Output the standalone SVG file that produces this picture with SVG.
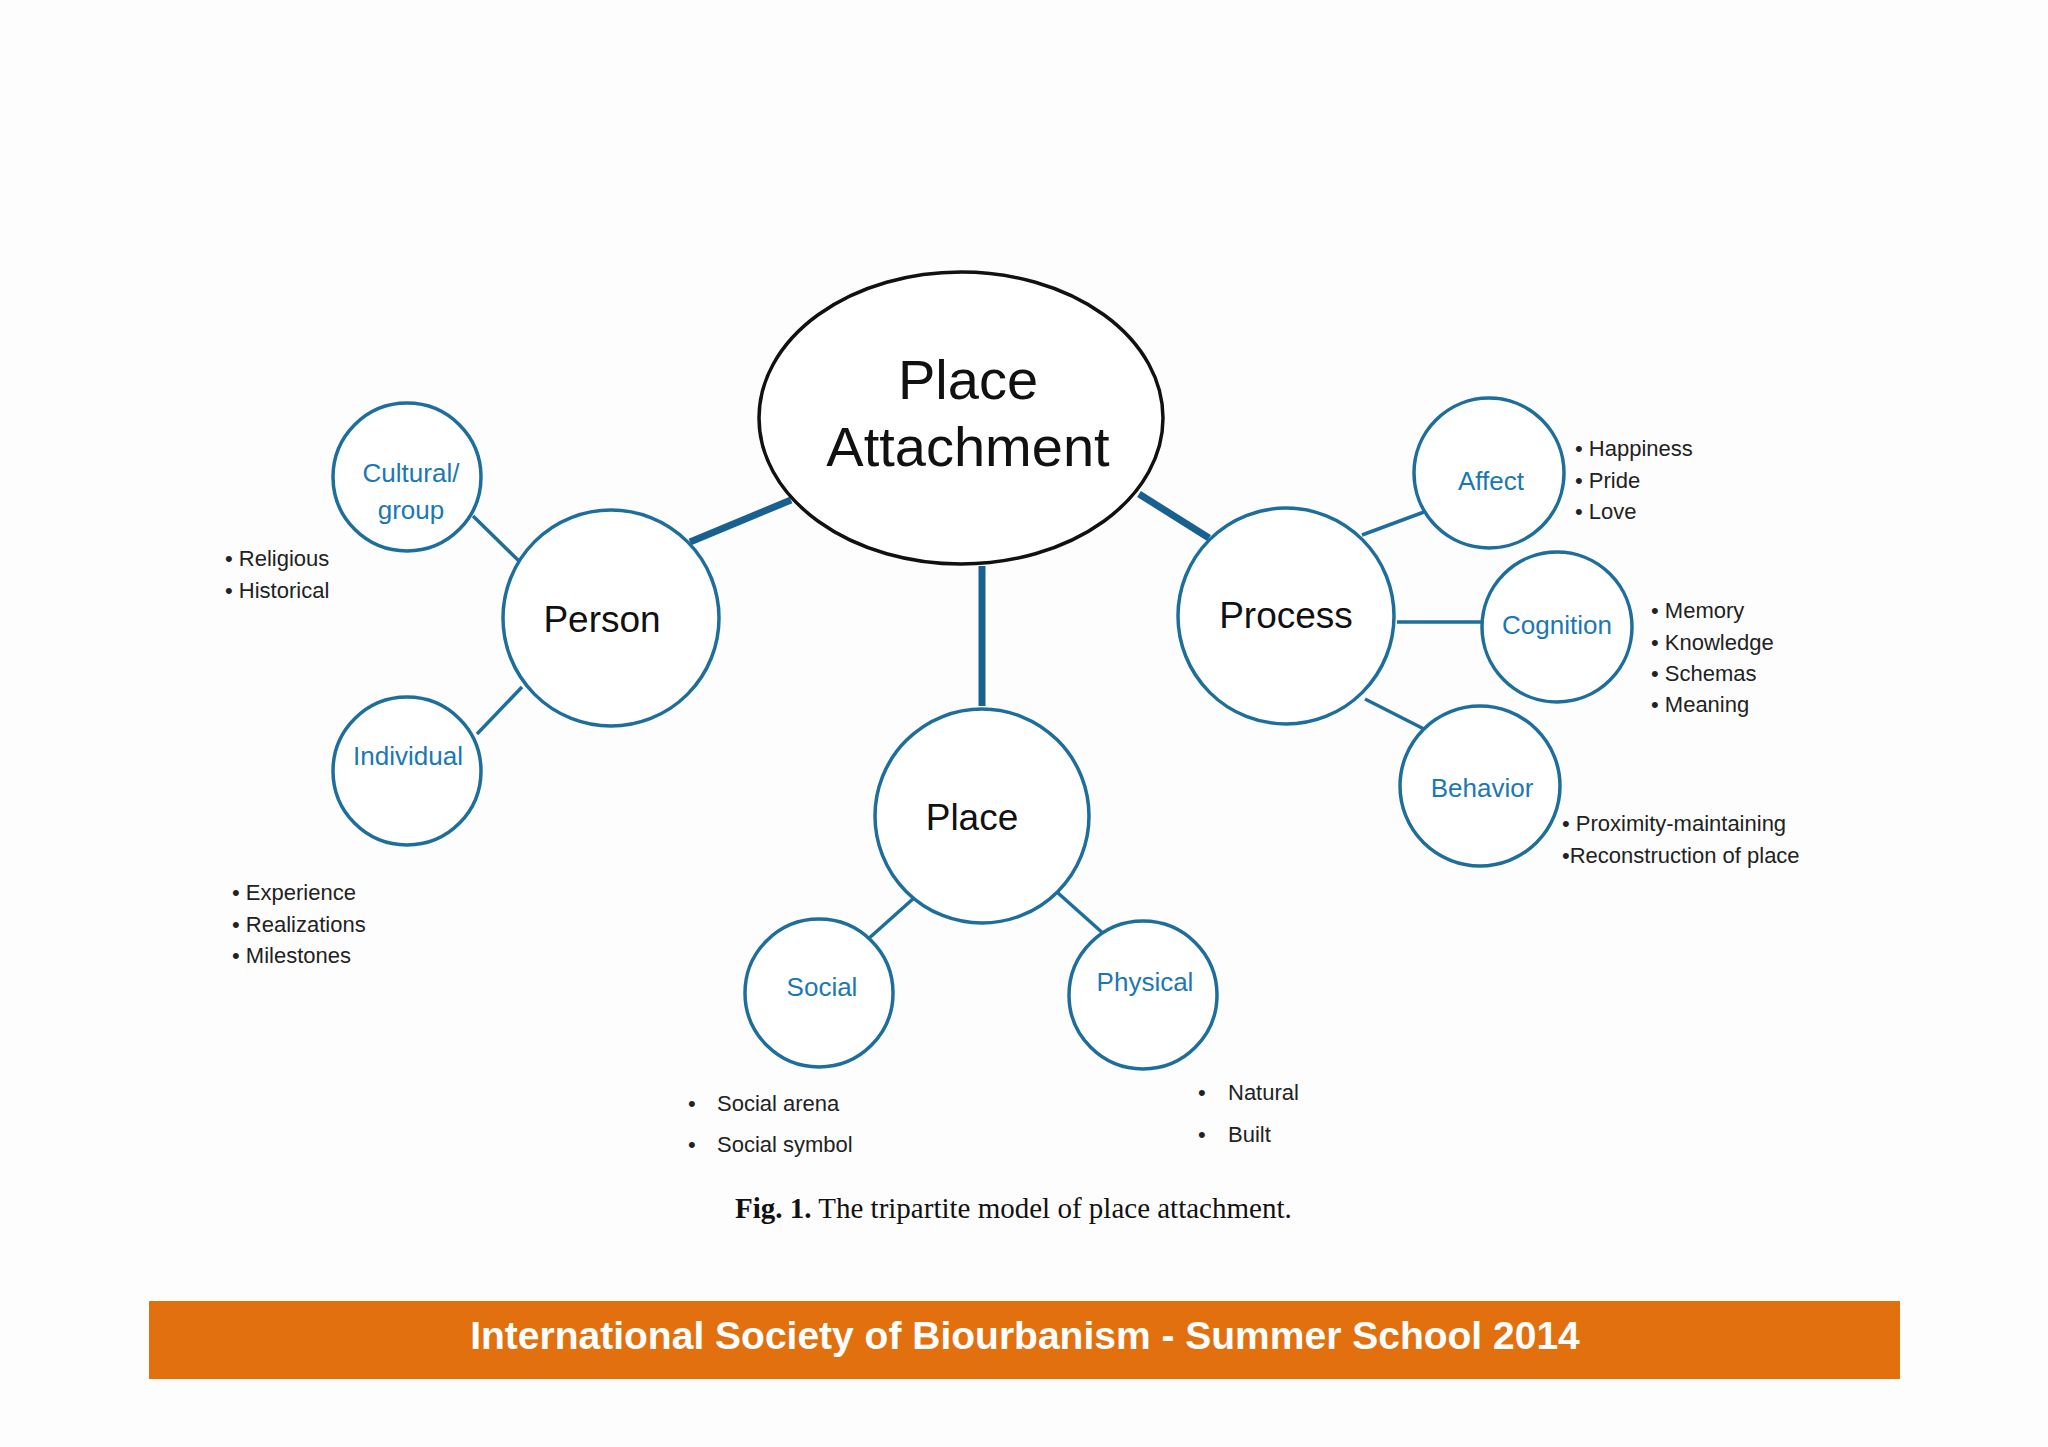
<svg xmlns="http://www.w3.org/2000/svg" width="2048" height="1447" viewBox="0 0 2048 1447">
<style>
.c{fill:#fff;stroke:#1e6e9c;stroke-width:3.5}
.big{font-family:"Liberation Sans",sans-serif;font-size:37px;fill:#111;text-anchor:middle}
.huge{font-size:56px}
.sub{font-family:"Liberation Sans",sans-serif;font-size:26px;fill:#1b78b2;text-anchor:middle}
.b{font-family:"Liberation Sans",sans-serif;font-size:22px;fill:#222}
.thick{stroke:#17608f;stroke-width:7}
.thin{stroke:#1e6e9c;stroke-width:3.5}
</style>
<rect width="2048" height="1447" fill="#fdfdfd"/>
<g id="connectors" fill="none">
<line class="thick" x1="690" y1="542" x2="791" y2="500"/>
<line class="thick" x1="1139" y1="494" x2="1209" y2="538"/>
<line class="thick" x1="982" y1="566" x2="982" y2="706"/>
<line class="thin" x1="473" y1="516" x2="520" y2="562"/>
<line class="thin" x1="477" y1="734" x2="522" y2="687"/>
<line class="thin" x1="914" y1="898" x2="867" y2="940"/>
<line class="thin" x1="1058" y1="893" x2="1105" y2="935"/>
<line class="thin" x1="1362" y1="535" x2="1424" y2="512"/>
<line class="thin" x1="1397" y1="622" x2="1482" y2="622"/>
<line class="thin" x1="1365" y1="699" x2="1424" y2="729"/>
</g>
<g id="center"><ellipse cx="961" cy="418" rx="202" ry="146" fill="#fff" stroke="#111" stroke-width="3.5"/>
<text class="big huge" x="968" y="399">Place</text><text class="big huge" x="968" y="466">Attachment</text></g>
<g id="person"><circle class="c" cx="611" cy="618" r="108"/><text class="big" x="602" y="632">Person</text></g>
<g id="cultural"><circle class="c" cx="407" cy="477" r="74"/><text class="sub" x="411" y="482">Cultural/</text><text class="sub" x="411" y="519">group</text></g>
<g id="individual"><circle class="c" cx="407" cy="771" r="74"/><text class="sub" x="408" y="765">Individual</text></g>
<g id="place"><circle class="c" cx="982" cy="816" r="107"/><text class="big" x="972" y="830">Place</text></g>
<g id="social"><circle class="c" cx="819" cy="993" r="74"/><text class="sub" x="822" y="996">Social</text></g>
<g id="physical"><circle class="c" cx="1143" cy="995" r="74"/><text class="sub" x="1145" y="991">Physical</text></g>
<g id="process"><circle class="c" cx="1286" cy="616" r="108"/><text class="big" x="1286" y="628">Process</text></g>
<g id="affect"><circle class="c" cx="1489" cy="473" r="75"/><text class="sub" x="1491" y="490">Affect</text></g>
<g id="cognition"><circle class="c" cx="1557" cy="627" r="75"/><text class="sub" x="1557" y="634">Cognition</text></g>
<g id="behavior"><circle class="c" cx="1480" cy="786" r="80"/><text class="sub" x="1482" y="797">Behavior</text></g>
<g id="bullets" class="b">
<text x="225" y="566">• Religious</text><text x="225" y="598">• Historical</text>
<text x="232" y="900">•  Experience</text><text x="232" y="932">•  Realizations</text><text x="232" y="963">•  Milestones</text>
<text x="688" y="1111">•<tspan x="717">Social arena</tspan></text><text x="688" y="1152">•<tspan x="717">Social symbol</tspan></text>
<text x="1198" y="1100">•<tspan x="1228">Natural</tspan></text><text x="1198" y="1142">•<tspan x="1228">Built</tspan></text>
<text x="1575" y="456">• Happiness</text><text x="1575" y="488">• Pride</text><text x="1575" y="519">• Love</text>
<text x="1651" y="618">• Memory</text><text x="1651" y="650">• Knowledge</text><text x="1651" y="681">• Schemas</text><text x="1651" y="712">• Meaning</text>
<text x="1562" y="831">• Proximity-maintaining</text><text x="1562" y="863">•Reconstruction of place</text>
</g>
<text x="735" y="1218" font-family="Liberation Serif,serif" font-size="29" fill="#111"><tspan font-weight="bold">Fig. 1.</tspan> The tripartite model of place attachment.</text>
<g id="banner"><rect x="149" y="1301" width="1751" height="78" fill="#e2700f"/>
<text x="1025" y="1349" font-family="Liberation Sans,sans-serif" font-weight="bold" font-size="39" fill="#fff" text-anchor="middle">International Society of Biourbanism - Summer School 2014</text></g>
</svg>
